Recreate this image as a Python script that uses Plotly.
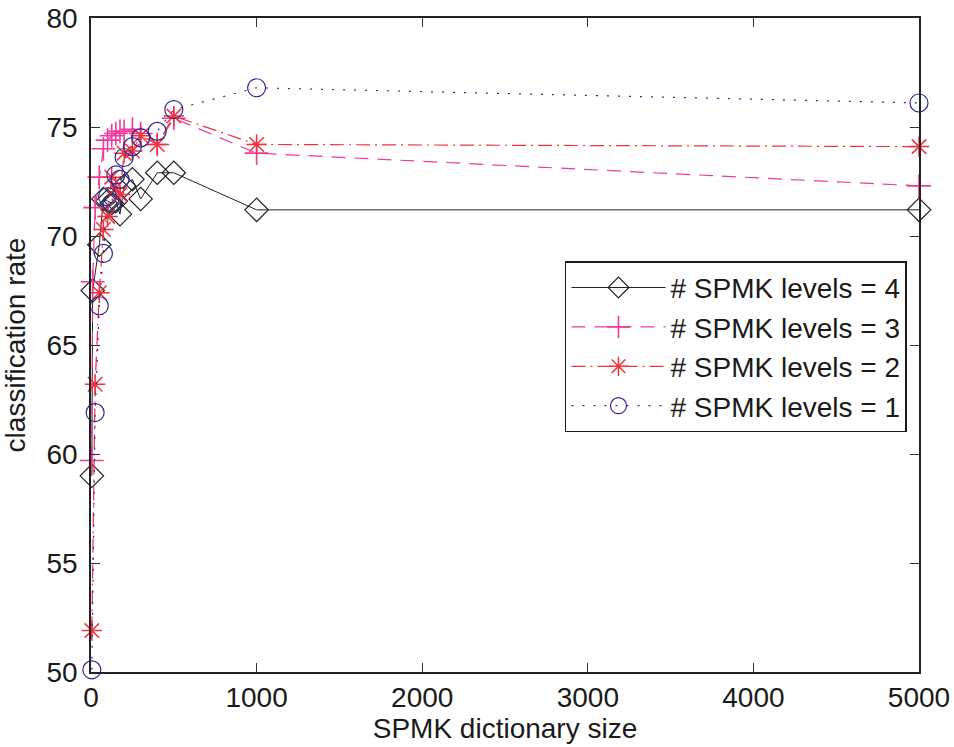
import plotly.graph_objects as go

# ---- data ----
x_lvl4 = [5, 10, 50, 75, 100, 125, 150, 175, 200, 250, 300, 400, 500, 1000, 5000]
y_lvl4 = [59.0, 67.5, 69.6, 71.7, 71.6, 71.5, 71.6, 71.0, 72.3, 72.6, 71.7, 72.9, 72.9, 71.2, 71.2]

x_lvl3 = [5, 10, 25, 50, 75, 100, 125, 150, 175, 200, 250, 300, 400, 500, 1000, 5000]
y_lvl3 = [59.7, 67.9, 71.3, 72.7, 74.0, 74.4, 74.6, 74.7, 74.8, 74.8, 74.9, 74.7, 74.2, 75.4, 73.8, 72.3]

x_lvl2 = [5, 25, 50, 75, 100, 125, 150, 175, 200, 250, 300, 400, 500, 1000, 5000]
y_lvl2 = [51.9, 63.2, 67.4, 70.3, 70.9, 72.7, 72.2, 71.9, 73.8, 73.9, 74.6, 74.2, 75.5, 74.2, 74.1]

x_lvl1 = [5, 25, 50, 75, 100, 125, 150, 175, 200, 250, 300, 400, 500, 1000, 5000]
y_lvl1 = [50.1, 61.9, 66.8, 69.2, 71.8, 71.5, 72.8, 72.6, 73.6, 74.1, 74.5, 74.8, 75.8, 76.8, 76.1]

names = ["# SPMK levels = 4", "# SPMK levels = 3", "# SPMK levels = 2", "# SPMK levels = 1"]
x_ticks = [0, 1000, 2000, 3000, 4000, 5000]
y_ticks = [50, 55, 60, 65, 70, 75, 80]

FONT = "Liberation Sans, Arial, Helvetica, sans-serif"

fig = go.Figure()

fig.add_trace(go.Scatter(
    x=x_lvl4, y=y_lvl4, name=names[0], mode="lines+markers", cliponaxis=False,
    line=dict(color="#222222", width=1, dash="solid"),
    marker=dict(symbol="diamond-open", size=18, color="#222222", line=dict(width=1.2, color="#222222")),
))
fig.add_trace(go.Scatter(
    x=x_lvl3, y=y_lvl3, name=names[1], mode="lines+markers", cliponaxis=False,
    line=dict(color="#ee3a9e", width=1.2, dash="14px,9px"),
    marker=dict(symbol="cross-thin-open", size=17, color="#ee3a9e", line=dict(width=1.6, color="#ee3a9e")),
))
fig.add_trace(go.Scatter(
    x=x_lvl2, y=y_lvl2, name=names[2], mode="lines+markers", cliponaxis=False,
    line=dict(color="#f5303a", width=1.2, dash="14px,5px,2px,5px"),
    marker=dict(symbol="asterisk-open", size=17, color="#f5303a", line=dict(width=1.5, color="#f5303a")),
))
fig.add_trace(go.Scatter(
    x=x_lvl1, y=y_lvl1, name=names[3], mode="lines+markers", cliponaxis=False,
    line=dict(color="#2a2a96", width=1.2, dash="2px,9px"),
    marker=dict(symbol="circle-open", size=18, color="#2a2a96", line=dict(width=1.2, color="#2a2a96")),
))

fig.update_layout(
    width=954, height=747,
    margin=dict(l=91, r=35, t=18, b=75),
    paper_bgcolor="white", plot_bgcolor="white",
    font=dict(family=FONT, size=28, color="#1a1a1a"),
    showlegend=True,
    legend=dict(
        x=0.9855, y=0.628, xanchor="right", yanchor="top",
        bgcolor="white", bordercolor="#1a1a1a", borderwidth=1.5,
        font=dict(family=FONT, size=28, color="#1a1a1a"),
        tracegroupgap=0, itemwidth=94,
    ),
    xaxis=dict(
        range=[0, 5000], tickvals=x_ticks, ticktext=[str(v) for v in x_ticks],
        ticks="inside", ticklen=9, tickwidth=1, tickcolor="#333333",
        showline=True, linecolor="#222222", linewidth=1.5, mirror="ticks",
        showgrid=False, zeroline=False, automargin=False, ticklabeloverflow="allow",
        tickfont=dict(family=FONT, size=28),
        title=dict(text="SPMK dictionary size", font=dict(family=FONT, size=28), standoff=0),
    ),
    yaxis=dict(
        range=[50, 80], tickvals=y_ticks, ticktext=[str(v) for v in y_ticks],
        ticks="inside", ticklen=9, tickwidth=1, tickcolor="#333333",
        showline=True, linecolor="#222222", linewidth=1.5, mirror="ticks",
        showgrid=False, zeroline=False, automargin=False, ticklabeloverflow="allow",
        tickfont=dict(family=FONT, size=28), ticklabelstandoff=6,
        title=dict(text="classification rate", font=dict(family=FONT, size=28), standoff=14),
    ),
)

fig.write_html(
    "out.html",
    config={"displayModeBar": False},
    post_script="document.body.style.margin='0';document.body.style.overflow='hidden';",
)
